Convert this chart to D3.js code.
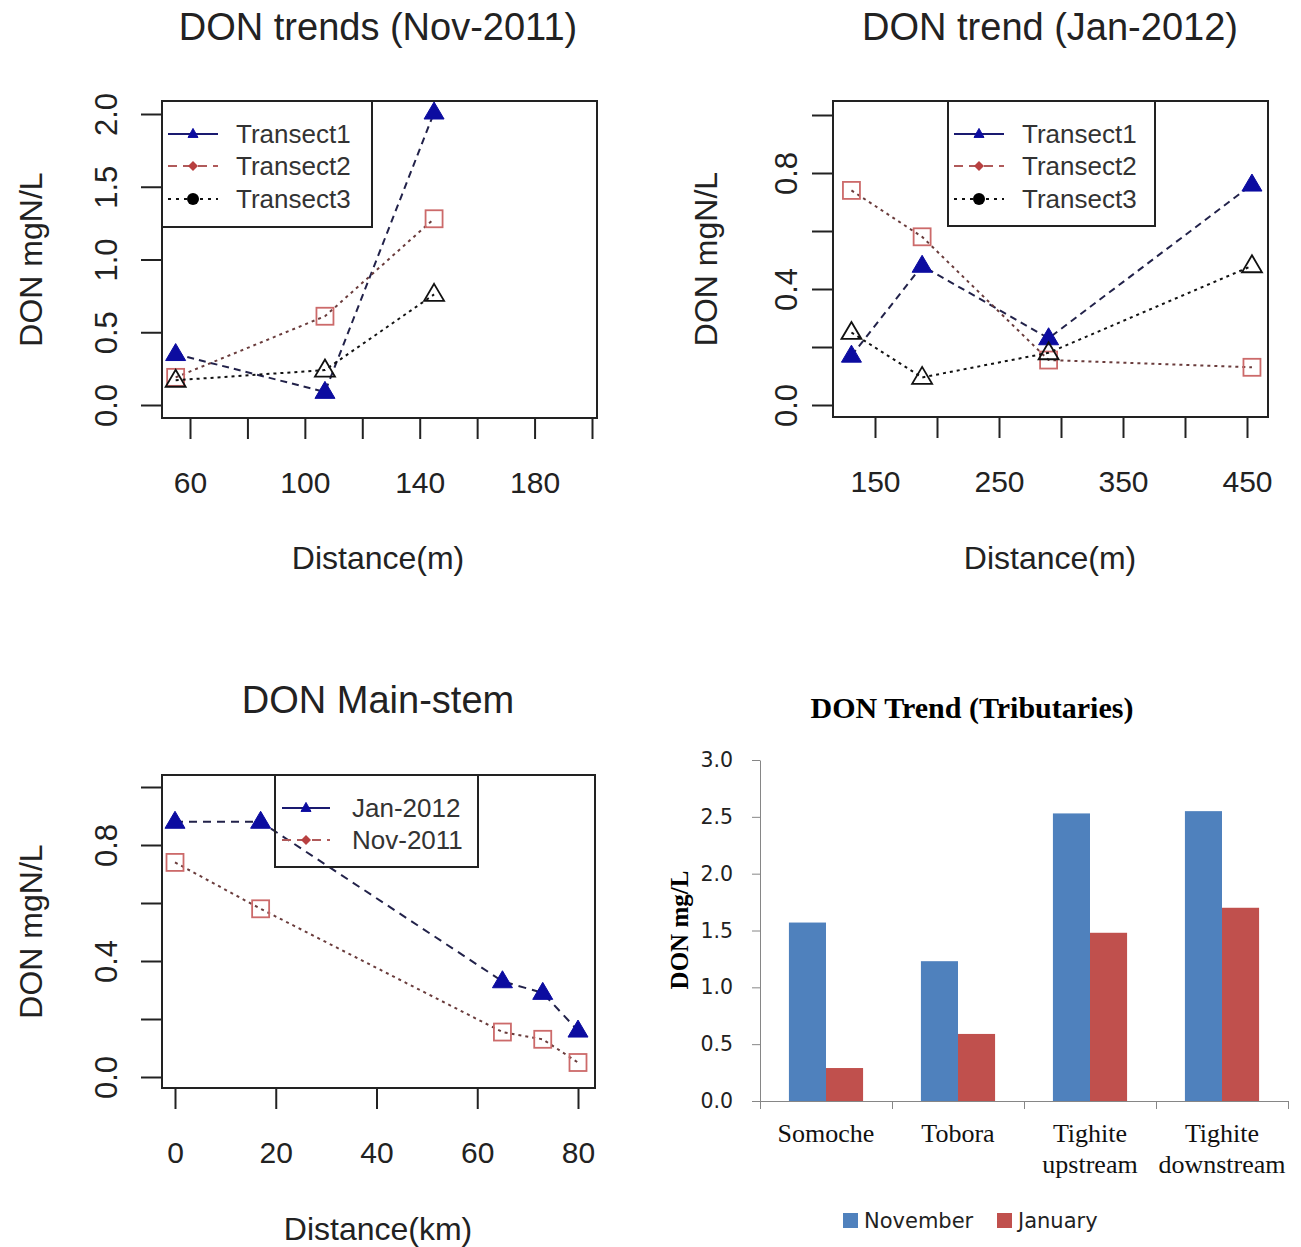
<!DOCTYPE html>
<html><head><meta charset="utf-8">
<script src="https://cdn.jsdelivr.net/npm/d3@7"></script>
<style>body{margin:0;background:#fff}</style>
</head><body>
<svg id="c" width="1301" height="1247" xmlns="http://www.w3.org/2000/svg"></svg>
<script>
// ---------- data ----------
const nov2011Distance = [55, 107, 145];
const nov2011Transect1 = [0.35, 0.09, 2.01];
const nov2011Transect2 = [0.19, 0.61, 1.28];
const nov2011Transect3 = [0.17, 0.24, 0.76];
const nov2011XTicks = [60, 80, 100, 120, 140, 160, 180, 200];
const nov2011XLabels = [60, 100, 140, 180];
const nov2011YTicks = [0, 0.5, 1, 1.5, 2];
const nov2011YLabels = [0, 0.5, 1, 1.5, 2];

const jan2012Distance = [131, 188, 290, 454];
const jan2012Transect1 = [0.17, 0.48, 0.23, 0.76];
const jan2012Transect2 = [0.74, 0.58, 0.155, 0.13];
const jan2012Transect3 = [0.25, 0.095, 0.18, 0.48];
const jan2012XTicks = [150, 200, 250, 300, 350, 400, 450];
const jan2012XLabels = [150, 250, 350, 450];
const jan2012YTicks = [0, 0.2, 0.4, 0.6, 0.8, 1.0];
const jan2012YLabels = [0, 0.4, 0.8];

const mainStemDistance = [0, 17, 65, 73, 80];
const mainStemJan2012 = [0.88, 0.88, 0.33, 0.29, 0.16];
const mainStemNov2011 = [0.74, 0.58, 0.155, 0.13, 0.05];
const mainStemXTicks = [0, 20, 40, 60, 80];
const mainStemXLabels = [0, 20, 40, 60, 80];
const mainStemYTicks = [0, 0.2, 0.4, 0.6, 0.8, 1.0];
const mainStemYLabels = [0, 0.4, 0.8];

const tributaries = ["Somoche", "Tobora", "Tighite upstream", "Tighite downstream"];
const tributaryNovember = [1.57, 1.23, 2.53, 2.55];
const tributaryJanuary = [0.29, 0.59, 1.48, 1.70];
const tributaryYTicks = [0, 0.5, 1, 1.5, 2, 2.5, 3];
const tributarySeries = ["November", "January"];

// ---------- drawing ----------
const svg = d3.select('#c');
const RFONT = '"Liberation Sans", Arial, sans-serif';
const TXT = '#222';
const BLUE = '#0c0ca0';
const SQ = '#cc6a6a';

function marker(g, type, cx, cy, s) {
  s = s || 1;
  if (type === 'triFill' || type === 'triOpen' || type === 'triSmall') {
    const w = (type === 'triSmall' ? 10 : 20) * s, h = (type === 'triSmall' ? 9 : 17) * s;
    g.append('path')
      .attr('d', `M${cx},${cy - h * 0.62}L${cx + w / 2},${cy + h * 0.38}L${cx - w / 2},${cy + h * 0.38}Z`)
      .attr('fill', type === 'triOpen' ? 'none' : BLUE)
      .attr('stroke', type === 'triOpen' ? '#111' : BLUE)
      .attr('stroke-width', type === 'triOpen' ? 1.8 : 1);
  } else if (type === 'square') {
    const a = 17;
    g.append('rect').attr('x', cx - a / 2).attr('y', cy - a / 2).attr('width', a).attr('height', a)
      .attr('fill', 'none').attr('stroke', SQ).attr('stroke-width', 1.8);
  } else if (type === 'diamond') {
    const a = 5;
    g.append('path').attr('d', `M${cx},${cy - a}L${cx + a},${cy}L${cx},${cy + a}L${cx - a},${cy}Z`)
      .attr('fill', '#b84040');
  } else if (type === 'dot') {
    g.append('circle').attr('cx', cx).attr('cy', cy).attr('r', 6).attr('fill', '#000');
  }
}

function rPanel(o) {
  const g = svg.append('g');
  const [bx0, bx1, by0, by1] = o.box;
  const x = d3.scaleLinear().domain(o.xDom).range(o.xRange);
  const y = d3.scaleLinear().domain(o.yDom).range(o.yRange);

  // series lines + markers
  o.series.forEach(s => {
    const line = d3.line().x((d, i) => x(o.dist[i])).y(d => y(d));
    g.append('path').datum(s.values).attr('d', line)
      .attr('fill', 'none').attr('stroke', s.lineColor).attr('stroke-width', 2)
      .attr('stroke-dasharray', s.dash);
    s.values.forEach((v, i) => marker(g, s.marker, x(o.dist[i]), y(v)));
  });

  // box
  g.append('rect').attr('x', bx0).attr('y', by0).attr('width', bx1 - bx0).attr('height', by1 - by0)
    .attr('fill', 'none').attr('stroke', '#222').attr('stroke-width', 2);

  // x axis
  const xa = d3.axisBottom(x).tickValues(o.xTicks).tickSizeInner(21).tickSizeOuter(0).tickPadding(33)
    .tickFormat(d => o.xLabels.includes(d) ? d3.format('d')(d) : '');
  const gx = g.append('g').attr('transform', `translate(0,${by1})`).call(xa);
  gx.select('.domain').remove();
  gx.selectAll('line').attr('stroke', '#222').attr('stroke-width', 2);
  gx.selectAll('text').attr('font-family', RFONT).attr('font-size', 30).attr('fill', TXT);

  // y axis
  const ya = d3.axisLeft(y).tickValues(o.yTicks).tickSizeInner(21).tickSizeOuter(0)
    .tickFormat(d => o.yLabels.includes(d) ? d3.format('.1f')(d) : '');
  const gy = g.append('g').attr('transform', `translate(${bx0},0)`).call(ya);
  gy.select('.domain').remove();
  gy.selectAll('line').attr('stroke', '#222').attr('stroke-width', 2);
  gy.selectAll('text').attr('font-family', RFONT).attr('font-size', 31).attr('fill', TXT)
    .attr('text-anchor', 'middle').attr('x', 0).attr('dy', 0).attr('y', -(bx0 - o.yLabelBase))
    .attr('transform', 'rotate(-90)');

  // titles
  g.append('text').attr('x', o.cx).attr('y', o.titleY).attr('text-anchor', 'middle')
    .attr('font-family', RFONT).attr('font-size', 38).attr('fill', TXT).text(o.title);
  g.append('text').attr('x', o.cx).attr('y', o.xlabY).attr('text-anchor', 'middle')
    .attr('font-family', RFONT).attr('font-size', 32).attr('fill', TXT).text(o.xlab);
  g.append('text').attr('transform', `translate(${o.ylabX},${(by0 + by1) / 2}) rotate(-90)`)
    .attr('text-anchor', 'middle').attr('font-family', RFONT).attr('font-size', 32).attr('fill', TXT)
    .text('DON mgN/L');

  // legend
  const L = o.legend;
  g.append('rect').attr('x', L.box[0]).attr('y', L.box[1]).attr('width', L.box[2] - L.box[0])
    .attr('height', L.box[3] - L.box[1]).attr('fill', 'none').attr('stroke', '#222').attr('stroke-width', 2);
  L.items.forEach((it, i) => {
    const yy = L.rows[i];
    g.append('line').attr('x1', L.lx0).attr('x2', L.lx1).attr('y1', yy).attr('y2', yy)
      .attr('stroke', it.color).attr('stroke-width', 2).attr('stroke-dasharray', it.dash);
    marker(g, it.marker, (L.lx0 + L.lx1) / 2, yy);
    g.append('text').attr('x', L.tx).attr('y', yy + 9).attr('font-family', RFONT).attr('font-size', 26)
      .attr('fill', '#333').text(it.label);
  });
}

const legendTransects = [
  { label: 'Transect1', color: '#1a1a70', dash: null, marker: 'triSmall' },
  { label: 'Transect2', color: '#b05a5a', dash: '9,6', marker: 'diamond' },
  { label: 'Transect3', color: '#111', dash: '3,5', marker: 'dot' }
];

rPanel({
  box: [162, 597, 101, 418], xDom: [60, 200], xRange: [190, 592], yDom: [0, 2], yRange: [405, 114],
  xTicks: nov2011XTicks, xLabels: nov2011XLabels, yTicks: nov2011YTicks, yLabels: nov2011YLabels,
  yLabelBase: 117, dist: nov2011Distance,
  series: [
    { values: nov2011Transect1, lineColor: '#22224a', dash: '7,5', marker: 'triFill' },
    { values: nov2011Transect2, lineColor: '#6a3c3c', dash: '3,4', marker: 'square' },
    { values: nov2011Transect3, lineColor: '#111', dash: '3,4', marker: 'triOpen' }
  ],
  title: 'DON trends (Nov-2011)', titleY: 40, cx: 378, xlab: 'Distance(m)', xlabY: 569, ylabX: 42,
  legend: { box: [162, 101, 372, 227], rows: [134, 166, 199], lx0: 168, lx1: 218, tx: 236, items: legendTransects }
});

rPanel({
  box: [833, 1268, 101, 417], xDom: [150, 450], xRange: [875, 1247], yDom: [0, 1], yRange: [405, 115],
  xTicks: jan2012XTicks, xLabels: jan2012XLabels, yTicks: jan2012YTicks, yLabels: jan2012YLabels,
  yLabelBase: 797, dist: jan2012Distance,
  series: [
    { values: jan2012Transect1, lineColor: '#22224a', dash: '7,5', marker: 'triFill' },
    { values: jan2012Transect2, lineColor: '#6a3c3c', dash: '3,4', marker: 'square' },
    { values: jan2012Transect3, lineColor: '#111', dash: '3,4', marker: 'triOpen' }
  ],
  title: 'DON trend (Jan-2012)', titleY: 40, cx: 1050, xlab: 'Distance(m)', xlabY: 569, ylabX: 717,
  legend: { box: [948, 101, 1155, 226], rows: [134, 166, 199], lx0: 954, lx1: 1004, tx: 1022, items: legendTransects }
});

rPanel({
  box: [162, 595, 775, 1088], xDom: [0, 80], xRange: [175, 578], yDom: [0, 1], yRange: [1077, 787],
  xTicks: mainStemXTicks, xLabels: mainStemXLabels, yTicks: mainStemYTicks, yLabels: mainStemYLabels,
  yLabelBase: 117, dist: mainStemDistance,
  series: [
    { values: mainStemJan2012, lineColor: '#22224a', dash: '8,6', marker: 'triFill' },
    { values: mainStemNov2011, lineColor: '#6a3c3c', dash: '3,4', marker: 'square' }
  ],
  title: 'DON Main-stem', titleY: 713, cx: 378, xlab: 'Distance(km)', xlabY: 1240, ylabX: 42,
  legend: { box: [275, 775, 478, 867], rows: [808, 840], lx0: 282, lx1: 330, tx: 352,
    items: [
      { label: 'Jan-2012', color: '#1a1a70', dash: null, marker: 'triSmall' },
      { label: 'Nov-2011', color: '#b05a5a', dash: '9,6', marker: 'diamond' }
    ] }
});

// ---------- bar chart ----------
(function () {
  const g = svg.append('g');
  const SERIF = '"Liberation Serif", "Times New Roman", serif';
  const SANS = '"DejaVu Sans", Verdana, sans-serif';
  const AX = '#868686';
  const colors = { November: '#4f81bd', January: '#c0504d' };
  const xb = d3.scaleBand().domain(tributaries).range([760, 1288]);
  const xs = d3.scaleBand().domain(tributarySeries).range([0, xb.bandwidth()]).paddingOuter(0.78);
  const yb = d3.scaleLinear().domain([0, 3]).range([1101, 760]);

  const vals = { November: tributaryNovember, January: tributaryJanuary };
  tributaries.forEach((c, i) => {
    tributarySeries.forEach(s => {
      g.append('rect').attr('x', xb(c) + xs(s)).attr('width', xs.bandwidth())
        .attr('y', yb(vals[s][i])).attr('height', yb(0) - yb(vals[s][i])).attr('fill', colors[s]);
    });
  });

  const ya = d3.axisLeft(yb).tickValues(tributaryYTicks).tickSizeInner(8).tickSizeOuter(0).tickPadding(19)
    .tickFormat(d3.format('.1f'));
  const gy = g.append('g').attr('transform', 'translate(760,0)').call(ya);
  gy.select('.domain').attr('stroke', AX);
  gy.selectAll('line').attr('stroke', AX);
  gy.selectAll('text').attr('font-family', SANS).attr('font-size', 20.5).attr('fill', '#222');

  // x axis line with category-boundary ticks
  const bounds = tributaries.map(c => xb(c)).concat([xb.range()[1]]);
  const xa = d3.axisBottom(d3.scaleLinear().domain([760, 1288]).range([760, 1288]))
    .tickValues(bounds).tickSizeInner(8).tickSizeOuter(0).tickFormat('');
  const gx = g.append('g').attr('transform', `translate(0,${yb(0)})`).call(xa);
  gx.select('.domain').attr('stroke', AX);
  gx.selectAll('line').attr('stroke', AX);

  tributaries.forEach(c => {
    const parts = c.split(' ');
    parts.forEach((p, j) => {
      g.append('text').attr('x', xb(c) + xb.bandwidth() / 2).attr('y', 1142 + j * 31)
        .attr('text-anchor', 'middle').attr('font-family', SERIF).attr('font-size', 26)
        .attr('fill', '#111').text(p);
    });
  });

  g.append('text').attr('x', 972).attr('y', 718).attr('text-anchor', 'middle')
    .attr('font-family', SERIF).attr('font-weight', 'bold').attr('font-size', 30).attr('fill', '#000')
    .text('DON Trend (Tributaries)');
  g.append('text').attr('transform', 'translate(688,930) rotate(-90)').attr('text-anchor', 'middle')
    .attr('font-family', SERIF).attr('font-weight', 'bold').attr('font-size', 25).attr('fill', '#000')
    .text('DON mg/L');

  const legX = [843, 997];
  tributarySeries.forEach((s, i) => {
    g.append('rect').attr('x', legX[i]).attr('y', 1213).attr('width', 15).attr('height', 15).attr('fill', colors[s]);
    g.append('text').attr('x', legX[i] + 21).attr('y', 1228).attr('font-family', SANS).attr('font-size', 21)
      .attr('fill', '#222').text(s);
  });
})();
</script>
</body></html>
